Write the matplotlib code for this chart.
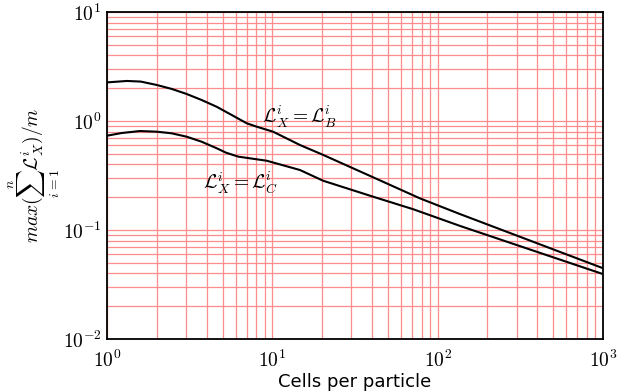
import matplotlib
matplotlib.use('Agg')
import matplotlib.pyplot as plt
import numpy as np
from matplotlib.ticker import LogLocator, FuncFormatter

plt.rcParams['mathtext.fontset'] = 'cm'

# curve L_X = L_B
xb = [1.0, 1.32, 1.6, 2.0, 2.46, 3.03, 3.73, 4.61, 5.68, 7.0, 8.04, 10.1, 14.7, 19.9, 40.8, 78.2, 136.5, 1000]
yb = [2.26, 2.33, 2.30, 2.14, 1.97, 1.77, 1.56, 1.35, 1.135, 0.953, 0.887, 0.798, 0.602, 0.495, 0.304, 0.195, 0.140, 0.0446]
# curve L_X = L_C
xc = [1.0, 1.23, 1.58, 2.0, 2.46, 3.03, 3.73, 4.61, 5.25, 6.22, 9.25, 14.7, 20.3, 41.8, 71.2, 136.5, 1000]
yc = [0.733, 0.776, 0.809, 0.798, 0.771, 0.718, 0.646, 0.562, 0.512, 0.471, 0.432, 0.355, 0.283, 0.1995, 0.155, 0.109, 0.0394]

fig = plt.figure(figsize=(6.2, 3.91), dpi=100)
ax = fig.add_axes([107/620, 1-339/391, 496/620, 327/391])

ax.plot(xb, yb, color='black', lw=1.5)
ax.plot(xc, yc, color='black', lw=1.5)
ax.set_xscale('log')
ax.set_yscale('log')
ax.set_xlim(1, 1000)
ax.set_ylim(0.01, 10)

# tick labels in computer modern, like the latex original
fmt = FuncFormatter(lambda v, p: r'$10^{%d}$' % int(round(np.log10(v))))
ax.xaxis.set_major_formatter(fmt)
ax.yaxis.set_major_formatter(fmt)
ax.xaxis.set_minor_locator(LogLocator(base=10, subs=range(2, 10)))
ax.yaxis.set_minor_locator(LogLocator(base=10, subs=range(2, 10)))
ax.grid(True, which='both', color='#ff8c8c', lw=0.9)
ax.set_axisbelow(True)
ax.tick_params(which='both', length=0, labelsize=14)
ax.tick_params(axis='y', pad=4)
ax.tick_params(axis='x', pad=8)
for s in ax.spines.values():
    s.set_linewidth(1.3)
    s.set_color('black')

ax.text(14.7, 1.09, r'$\mathcal{L}_X^i = \mathcal{L}_B^i$', fontsize=14, ha='center', va='center')
ax.text(6.4, 0.27, r'$\mathcal{L}_X^i = \mathcal{L}_C^i$', fontsize=14, ha='center', va='center')

ax.set_xlabel('Cells per particle', fontsize=13, family='DejaVu Sans', labelpad=1)
ax.set_ylabel(r'$max(\sum_{i=1}^{n}\mathcal{L}_X^i)/m$', fontsize=14)
ax.yaxis.set_label_coords(-0.09, 0.5)

plt.savefig('out.png', dpi=100)
